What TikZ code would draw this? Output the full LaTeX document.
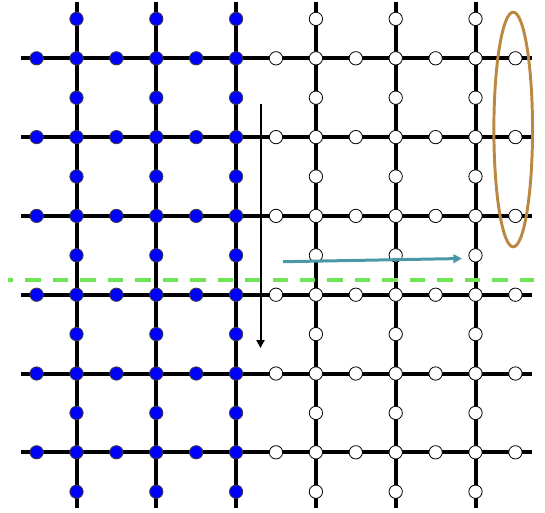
\documentclass[tikz,border=0pt]{standalone}
\usetikzlibrary{arrows.meta,shapes.geometric}
\definecolor{nodeblue}{RGB}{0,0,255}
\definecolor{dashgreen}{RGB}{112,228,82}
\definecolor{tealarrow}{RGB}{74,152,168}
\definecolor{ringbrown}{RGB}{186,136,66}
\begin{document}
\begin{tikzpicture}[x=0.75pt,y=-0.75pt,
  gridline/.style={line width=3pt, black},
  bnode/.style={circle, draw=black!75, line width=0.6pt, fill=nodeblue, minimum size=10pt, inner sep=0pt},
  wnode/.style={circle, draw=black, line width=0.6pt, fill=white, minimum size=10pt, inner sep=0pt},
  divider/.style={line width=3pt, dashgreen, dash pattern=on 11.6pt off 9pt, dash phase=7.6pt},
  downarrow/.style={line width=1.5pt, black, -{Triangle[length=6pt,width=6pt]}},
  rightarrow/.style={line width=2.25pt, tealarrow, -{Triangle[length=6.5pt,width=6.5pt]}},
  ring/.style={line width=2.2pt, draw=ringbrown}
]
\useasboundingbox (0,0) rectangle (545,512);
% grid lines
\foreach \i in {0,...,5}{
  \coordinate (vt\i) at ({76.5+79.8*\i},2);
  \coordinate (vb\i) at ({76.5+79.8*\i},508);
  \draw[gridline] (vt\i) -- (vb\i);
}
\foreach \j in {0,...,5}{
  \coordinate (hl\j) at (21,{58.3+78.8*\j});
  \coordinate (hr\j) at (532,{58.3+78.8*\j});
  \draw[gridline] (hl\j) -- (hr\j);
}
% nodes on vertical lines (intersections and vertical midpoints)
\foreach \i/\s in {0/bnode,1/bnode,2/bnode,3/wnode,4/wnode,5/wnode}{
  \foreach \k in {0,...,12}{
    \node[\s] (v\i-\k) at ({76.5+79.8*\i},{18.9+39.4*\k}) {};
  }
}
% horizontal midpoint nodes
\foreach \k/\s in {0/bnode,1/bnode,2/bnode,3/wnode,4/wnode,5/wnode,6/wnode}{
  \foreach \j in {0,...,5}{
    \node[\s] (h\k-\j) at ({36.6+79.8*\k},{58.3+78.8*\j}) {};
  }
}
% green dashed divider
\coordinate (gl) at (8,280);
\coordinate (gr) at (534,280);
\draw[divider] (gl) -- (gr);
% arrows
\coordinate (da) at (260.5,104);
\coordinate (db) at (260.5,348);
\draw[downarrow] (da) -- (db);
\coordinate (ra) at (283,261.7);
\coordinate (rb) at (462,258.5);
\draw[rightarrow] (ra) -- (rb);
% brown ellipse
\node[ring, ellipse, minimum width=29pt, minimum height=176pt, inner sep=0pt] (ring) at (513.2,129.5) {};
\end{tikzpicture}
\end{document}
